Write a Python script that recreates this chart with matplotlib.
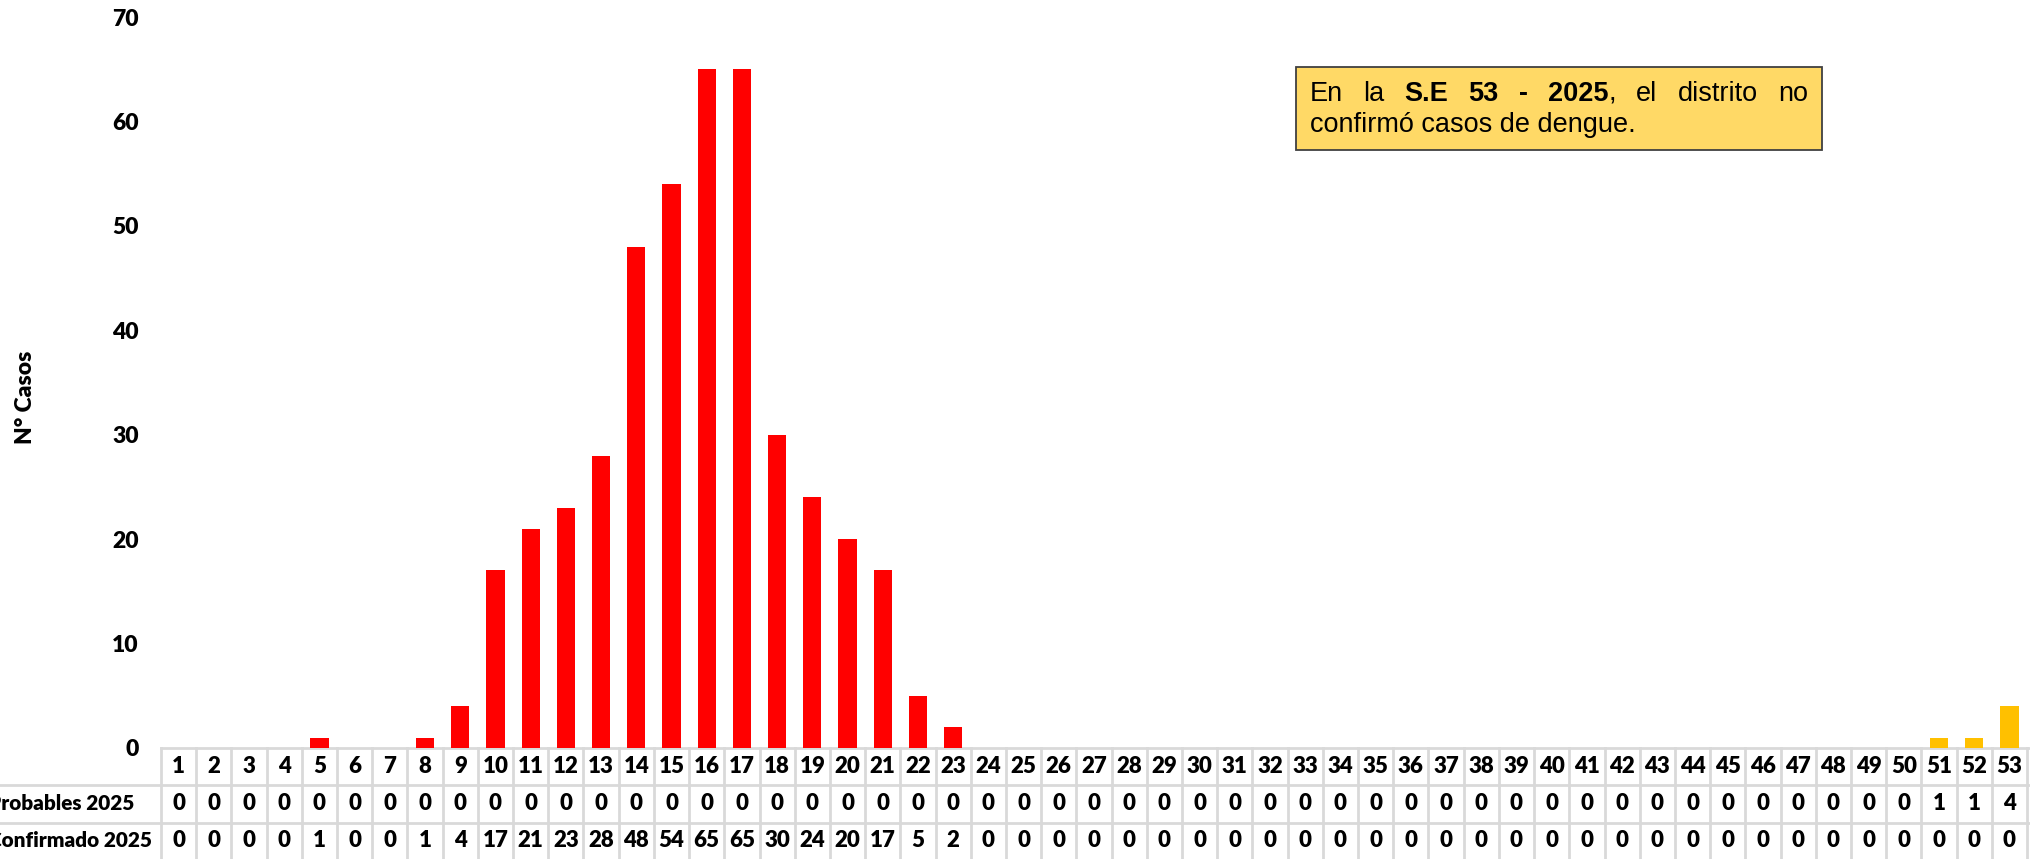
import numpy as np
import matplotlib
matplotlib.use("Agg")
import matplotlib.pyplot as plt
from matplotlib.transforms import blended_transform_factory

# semanas epidemiologicas
semanas = list(range(1, 54))
confirmado = [0, 0, 0, 0, 1, 0, 0, 1, 4, 17, 21, 23, 28, 48, 54, 65, 65, 30, 24, 20,
              17, 5, 2, 0, 0, 0, 0, 0, 0, 0, 0, 0, 0, 0, 0, 0, 0, 0, 0, 0,
              0, 0, 0, 0, 0, 0, 0, 0, 0, 0, 0, 0, 0]
probables = [0, 0, 0, 0, 0, 0, 0, 0, 0, 0, 0, 0, 0, 0, 0, 0, 0, 0, 0, 0,
             0, 0, 0, 0, 0, 0, 0, 0, 0, 0, 0, 0, 0, 0, 0, 0, 0, 0, 0, 0,
             0, 0, 0, 0, 0, 0, 0, 0, 0, 0, 1, 1, 4]
filas = ["Probables 2025", "Confirmado 2025"]

W, H = 2030, 859
fig = plt.figure(figsize=(W / 100, H / 100), dpi=100)
ax = fig.add_axes([161 / W, 1 - 748 / H, (2027 - 161) / W, (748 - 17) / H])

ax.bar(semanas, confirmado, width=0.52, color="#FF0000", zorder=3)
ax.bar(semanas, probables, width=0.52, color="#FFC000", zorder=3)

ax.set_xlim(0.5, 53.5)
ax.set_ylim(0, 70)
ax.set_yticks(range(0, 71, 10))
ax.set_xticks([])
for s in ax.spines.values():
    s.set_visible(False)
ax.tick_params(axis="y", length=0, pad=16)
for t in ax.get_yticklabels():
    t.set_fontfamily("Lato")
    t.set_fontweight("heavy")
    t.set_fontsize(16.5)

fig.text(26 / W, 1 - 397 / H, "N° Casos", rotation=90, ha="center", va="center",
         fontfamily="Lato", fontweight="heavy", fontsize=16.5)

# tabla de datos bajo el grafico
tr = blended_transform_factory(ax.transData, fig.transFigure)
gris = "#D9D9D9"
ys = [1 - 748 / H, 1 - 785 / H, 1 - 823 / H, 1 - 861 / H]
lw = 2
ax.plot([0.5, 53.6], [ys[0], ys[0]], transform=tr, color=gris, lw=lw, clip_on=False)
for y in ys[1:3]:
    fig.add_artist(plt.Line2D([0, 1], [y, y], transform=fig.transFigure, color=gris, lw=lw))
for i in range(54):
    x = 0.5 + i
    ax.plot([x, x], [ys[0], ys[3]], transform=tr, color=gris, lw=lw, clip_on=False)

kw = dict(transform=tr, ha="center", va="center", fontfamily="Lato",
          fontweight="heavy", fontsize=16, clip_on=False)
for i, s in enumerate(semanas):
    ax.text(s, (ys[0] + ys[1]) / 2, str(s), **kw)
    ax.text(s, (ys[1] + ys[2]) / 2, str(probables[i]), **kw)
    ax.text(s, (ys[2] + ys[3]) / 2 + 0.002, str(confirmado[i]), **kw)

fig.canvas.draw()
renderer = fig.canvas.get_renderer()

# etiquetas de fila (cortadas por el borde izquierdo, como en el original)
prueba = fig.text(0, 0, filas[0], fontfamily="Lato", fontweight="heavy", fontsize=16)
fs_fila = 16 * 147 / prueba.get_window_extent(renderer).width
prueba.remove()
for j, f in enumerate(filas):
    fig.text(-12 / W, (ys[j + 1] + ys[j + 2]) / 2 + (0.002 if j else 0), f,
             ha="left", va="center", fontfamily="Lato", fontweight="heavy", fontsize=fs_fila)

# recuadro de texto
fig.add_artist(plt.Rectangle((1296 / W, 1 - 150 / H), (1822 - 1296) / W, 83 / H,
                             transform=fig.transFigure, facecolor="#FFD966",
                             edgecolor="#404040", lw=1.3))
x0, x1 = 1310, 1808
linea1 = [[("En", "normal")], [("la", "normal")], [("S.E", "bold")], [("53", "bold")],
          [("-", "bold")], [("2025", "bold"), (",", "normal")], [("el", "normal")],
          [("distrito", "normal")], [("no", "normal")]]
fs = 19.5
piezas = []
total = 0
for palabra in linea1:
    partes = []
    for txt, wgt in palabra:
        t = fig.text(0, 0, txt, fontfamily="Liberation Sans", fontweight=wgt, fontsize=fs)
        w = t.get_window_extent(renderer).width
        partes.append((t, w))
        total += w
    piezas.append(partes)
gap = (x1 - x0 - total) / (len(linea1) - 1)
x = x0
for partes in piezas:
    for t, w in partes:
        t.set_position((x / W, 1 - 101 / H))
        x += w
    x += gap
fig.text(x0 / W, 1 - 132 / H, "confirmó casos de dengue.", fontfamily="Liberation Sans",
         fontsize=fs)

fig.savefig("out.png", dpi=100)
